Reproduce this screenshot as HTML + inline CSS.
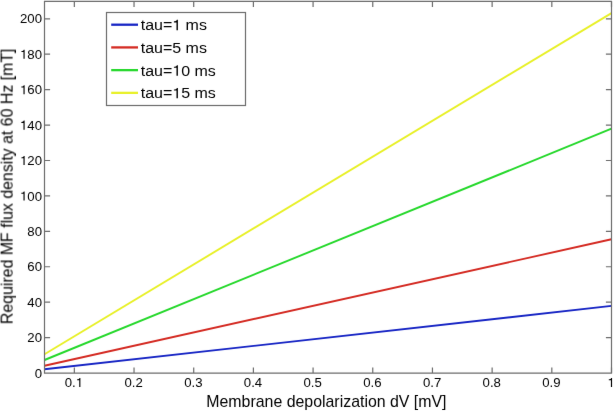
<!DOCTYPE html>
<html><head><meta charset="utf-8"><style>
html,body{margin:0;padding:0;background:#fff;width:614px;height:411px;overflow:hidden}
svg{display:block}
text{font-family:"Liberation Sans",sans-serif;fill:#000;stroke:#000;stroke-width:0.0px}
.tk{font-size:13.2px}
.lb{font-size:15.9px}
.lg{font-size:15.2px}
</style></head><body>
<svg width="614" height="411" viewBox="0 0 614 411">
<defs><filter id="bl" x="0" y="0" width="614" height="411" filterUnits="userSpaceOnUse" color-interpolation-filters="sRGB"><feConvolveMatrix order="3" kernelMatrix="0.00276 0.04704 0.00276 0.04704 0.80077 0.04704 0.00276 0.04704 0.00276" edgeMode="duplicate" preserveAlpha="true"/></filter></defs>
<g filter="url(#bl)">
<rect width="614" height="411" fill="#fff"/>
<line x1="44.5" y1="369.3" x2="611.5" y2="305.9" stroke="#1624c4" stroke-width="1.9"/>
<line x1="44.5" y1="365.7" x2="611.5" y2="239.3" stroke="#d42a22" stroke-width="1.9"/>
<line x1="44.5" y1="360.0" x2="611.5" y2="128.7" stroke="#26d82c" stroke-width="1.9"/>
<line x1="44.5" y1="354.2" x2="611.5" y2="13.1" stroke="#e8f028" stroke-width="1.9"/>
<path d="M44.5 1.4H611.5V373.1H44.5Z" fill="none" stroke="#6c6c6c" stroke-width="1.2"/>
<text transform="translate(42,377.60)" class="tk" text-anchor="end">0</text>
<path d="M44.5 337.58h5.6M611.5 337.58h-5.6" stroke="#6c6c6c" stroke-width="1.2"/>
<text transform="translate(42,342.18)" class="tk" text-anchor="end">20</text>
<path d="M44.5 302.16h5.6M611.5 302.16h-5.6" stroke="#6c6c6c" stroke-width="1.2"/>
<text transform="translate(42,306.76)" class="tk" text-anchor="end">40</text>
<path d="M44.5 266.74h5.6M611.5 266.74h-5.6" stroke="#6c6c6c" stroke-width="1.2"/>
<text transform="translate(42,271.34)" class="tk" text-anchor="end">60</text>
<path d="M44.5 231.32h5.6M611.5 231.32h-5.6" stroke="#6c6c6c" stroke-width="1.2"/>
<text transform="translate(42,235.92)" class="tk" text-anchor="end">80</text>
<path d="M44.5 195.90h5.6M611.5 195.90h-5.6" stroke="#6c6c6c" stroke-width="1.2"/>
<text transform="translate(42,200.50)" class="tk" text-anchor="end">&#x2007;00</text>
<path transform="translate(42,200.50) translate(-22.016,0.000) scale(0.01320,-0.01320)" d="M352 0L352 688L286 688C272 626 226 590 104 582L104 514L264 514L264 0Z" fill="#000" stroke="#000" stroke-width="0.0"/>
<path d="M44.5 160.48h5.6M611.5 160.48h-5.6" stroke="#6c6c6c" stroke-width="1.2"/>
<text transform="translate(42,165.08)" class="tk" text-anchor="end">&#x2007;20</text>
<path transform="translate(42,165.08) translate(-22.016,0.000) scale(0.01320,-0.01320)" d="M352 0L352 688L286 688C272 626 226 590 104 582L104 514L264 514L264 0Z" fill="#000" stroke="#000" stroke-width="0.0"/>
<path d="M44.5 125.06h5.6M611.5 125.06h-5.6" stroke="#6c6c6c" stroke-width="1.2"/>
<text transform="translate(42,129.66)" class="tk" text-anchor="end">&#x2007;40</text>
<path transform="translate(42,129.66) translate(-22.016,0.000) scale(0.01320,-0.01320)" d="M352 0L352 688L286 688C272 626 226 590 104 582L104 514L264 514L264 0Z" fill="#000" stroke="#000" stroke-width="0.0"/>
<path d="M44.5 89.64h5.6M611.5 89.64h-5.6" stroke="#6c6c6c" stroke-width="1.2"/>
<text transform="translate(42,94.24)" class="tk" text-anchor="end">&#x2007;60</text>
<path transform="translate(42,94.24) translate(-22.016,0.000) scale(0.01320,-0.01320)" d="M352 0L352 688L286 688C272 626 226 590 104 582L104 514L264 514L264 0Z" fill="#000" stroke="#000" stroke-width="0.0"/>
<path d="M44.5 54.22h5.6M611.5 54.22h-5.6" stroke="#6c6c6c" stroke-width="1.2"/>
<text transform="translate(42,58.82)" class="tk" text-anchor="end">&#x2007;80</text>
<path transform="translate(42,58.82) translate(-22.016,0.000) scale(0.01320,-0.01320)" d="M352 0L352 688L286 688C272 626 226 590 104 582L104 514L264 514L264 0Z" fill="#000" stroke="#000" stroke-width="0.0"/>
<path d="M44.5 18.80h5.6M611.5 18.80h-5.6" stroke="#6c6c6c" stroke-width="1.2"/>
<text transform="translate(42,23.40)" class="tk" text-anchor="end">200</text>
<path d="M74.34 373.1v-5.6M74.34 1.4v5.6" stroke="#6c6c6c" stroke-width="1.2"/>
<text transform="translate(73.94,387)" class="tk" text-anchor="middle">0.&#x2007;</text>
<path transform="translate(73.94,387) translate(1.812,0.000) scale(0.01320,-0.01320)" d="M352 0L352 688L286 688C272 626 226 590 104 582L104 514L264 514L264 0Z" fill="#000" stroke="#000" stroke-width="0.0"/>
<path d="M134.03 373.1v-5.6M134.03 1.4v5.6" stroke="#6c6c6c" stroke-width="1.2"/>
<text transform="translate(133.63,387)" class="tk" text-anchor="middle">0.2</text>
<path d="M193.71 373.1v-5.6M193.71 1.4v5.6" stroke="#6c6c6c" stroke-width="1.2"/>
<text transform="translate(193.31,387)" class="tk" text-anchor="middle">0.3</text>
<path d="M253.39 373.1v-5.6M253.39 1.4v5.6" stroke="#6c6c6c" stroke-width="1.2"/>
<text transform="translate(252.99,387)" class="tk" text-anchor="middle">0.4</text>
<path d="M313.08 373.1v-5.6M313.08 1.4v5.6" stroke="#6c6c6c" stroke-width="1.2"/>
<text transform="translate(312.68,387)" class="tk" text-anchor="middle">0.5</text>
<path d="M372.76 373.1v-5.6M372.76 1.4v5.6" stroke="#6c6c6c" stroke-width="1.2"/>
<text transform="translate(372.36,387)" class="tk" text-anchor="middle">0.6</text>
<path d="M432.45 373.1v-5.6M432.45 1.4v5.6" stroke="#6c6c6c" stroke-width="1.2"/>
<text transform="translate(432.05,387)" class="tk" text-anchor="middle">0.7</text>
<path d="M492.13 373.1v-5.6M492.13 1.4v5.6" stroke="#6c6c6c" stroke-width="1.2"/>
<text transform="translate(491.73,387)" class="tk" text-anchor="middle">0.8</text>
<path d="M551.82 373.1v-5.6M551.82 1.4v5.6" stroke="#6c6c6c" stroke-width="1.2"/>
<text transform="translate(551.42,387)" class="tk" text-anchor="middle">0.9</text>
<path d="M611.50 373.1v-5.6M611.50 1.4v5.6" stroke="#6c6c6c" stroke-width="1.2"/>
<text transform="translate(611.10,387)" class="tk" text-anchor="middle">&#x2007;</text>
<path transform="translate(611.10,387) translate(-3.672,0.000) scale(0.01320,-0.01320)" d="M352 0L352 688L286 688C272 626 226 590 104 582L104 514L264 514L264 0Z" fill="#000" stroke="#000" stroke-width="0.0"/>
<text transform="translate(326.4,406.7)" class="lb" text-anchor="middle">Membrane depolarization dV [mV]</text>
<text transform="translate(12.6,186.4) rotate(-90)" class="lb" text-anchor="middle">Required MF flux density at 60 Hz [mT]</text>
<rect x="106.5" y="12.5" width="139" height="93" fill="#fff" stroke="#6c6c6c" stroke-width="1.2"/>
<line x1="111.2" y1="24.70" x2="138" y2="24.70" stroke="#1624c4" stroke-width="2.3"/>
<text transform="translate(140.7,30.20) scale(1.0526,1)" class="lg">tau=&#x2007; ms</text>
<path transform="translate(140.7,30.20) scale(1.0526,1) translate(29.983,0.000) scale(0.01520,-0.01520)" d="M352 0L352 688L286 688C272 626 226 590 104 582L104 514L264 514L264 0Z" fill="#000" stroke="#000" stroke-width="0.0"/>
<line x1="111.2" y1="47.42" x2="138" y2="47.42" stroke="#d42a22" stroke-width="2.3"/>
<text transform="translate(140.7,52.92) scale(1.0526,1)" class="lg">tau=5 ms</text>
<line x1="111.2" y1="70.14" x2="138" y2="70.14" stroke="#26d82c" stroke-width="2.3"/>
<text transform="translate(140.7,75.64) scale(1.0526,1)" class="lg">tau=&#x2007;0 ms</text>
<path transform="translate(140.7,75.64) scale(1.0526,1) translate(29.983,0.000) scale(0.01520,-0.01520)" d="M352 0L352 688L286 688C272 626 226 590 104 582L104 514L264 514L264 0Z" fill="#000" stroke="#000" stroke-width="0.0"/>
<line x1="111.2" y1="92.86" x2="138" y2="92.86" stroke="#e8f028" stroke-width="2.3"/>
<text transform="translate(140.7,98.36) scale(1.0526,1)" class="lg">tau=&#x2007;5 ms</text>
<path transform="translate(140.7,98.36) scale(1.0526,1) translate(29.983,0.000) scale(0.01520,-0.01520)" d="M352 0L352 688L286 688C272 626 226 590 104 582L104 514L264 514L264 0Z" fill="#000" stroke="#000" stroke-width="0.0"/>
</g>
</svg></body></html>
